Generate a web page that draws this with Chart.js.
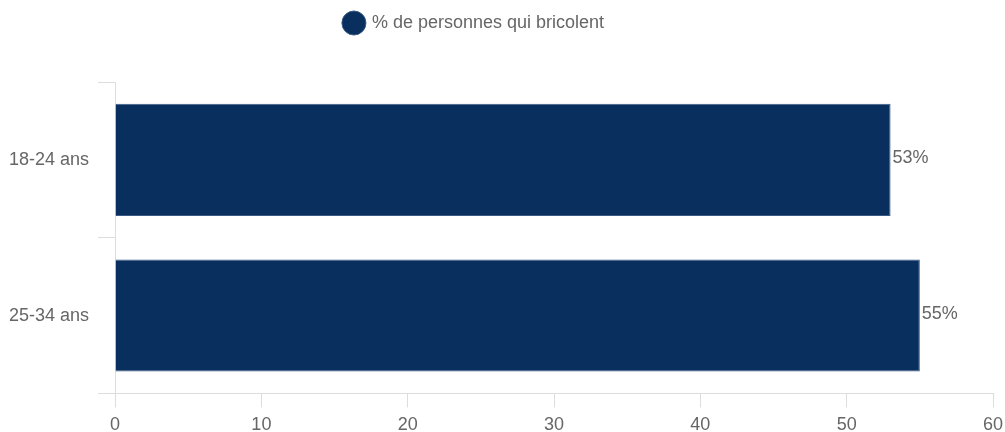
<!DOCTYPE html>
<html>
<head>
<meta charset="utf-8">
<script src="https://cdn.jsdelivr.net/npm/chart.js@4/dist/chart.umd.min.js"></script>
<style>
    html, body { margin: 0; padding: 0; background: #fff; }
    #wrap { width: 1005px; height: 432px; }
</style>
</head>
<body>
<div id="wrap"><canvas id="bricolage"></canvas></div>
<script>
var categories = ["18-24 ans", "25-34 ans"];
var valeurs = [53, 55];
var serieLabel = "% de personnes qui bricolent";

// etiquettes au bout des barres
var barLabels = {
    id: 'barLabels',
    afterDatasetsDraw(chart) {
        var ctx = chart.ctx;
        ctx.save();
        ctx.font = '18px "Liberation Sans", Arial, sans-serif';
        ctx.fillStyle = '#666';
        ctx.textAlign = 'left';
        ctx.textBaseline = 'middle';
        chart.getDatasetMeta(0).data.forEach((bar, i) => {
            ctx.fillText(valeurs[i] + '%', bar.x + 2, bar.y - 2);
        });
        ctx.restore();
    }
};

// espace sous la legende, legende un peu a gauche
var legendSpace = {
    id: 'legendSpace',
    beforeInit(chart) {
        var fit = chart.legend.fit;
        chart.legend.fit = function () {
            fit.bind(chart.legend)();
            this.height += 40;
        };
    },
    afterLayout(chart) {
        chart.legend.left -= 25;
        chart.legend.right -= 25;
    }
};

Chart.defaults.font.family = '"Liberation Sans", Arial, sans-serif';
Chart.defaults.font.size = 18;
Chart.defaults.color = '#666';

var ctx = document.querySelector('#bricolage').getContext('2d');
var myChart = new Chart(ctx, {
    type: 'bar',
    data: {
        labels: categories,
        datasets: [{
            label: serieLabel,
            data: valeurs,
            backgroundColor: '#082f5e',
            borderColor: '#3a5a85',
            borderWidth: 1
        }]
    },
    options: {
        indexAxis: 'y',
        responsive: true,
        maintainAspectRatio: false,
        animation: false,
        layout: {
            padding: { left: 0, right: 6, top: 0, bottom: -11 }
        },
        plugins: {
            legend: {
                position: 'top',
                labels: {
                    usePointStyle: true,
                    pointStyle: 'circle',
                    boxHeight: 17,
                    padding: 14,
                    color: '#666'
                }
            },
            tooltip: { enabled: false }
        },
        scales: {
            x: {
                min: 0,
                max: 60,
                ticks: { stepSize: 10, padding: 7 },
                grid: { drawOnChartArea: false, color: '#ddd', tickLength: 14 },
                border: { color: '#ddd' },
                afterFit(scale) {
                    scale.paddingRight = 12;
                }
            },
            y: {
                ticks: { padding: 9 },
                grid: { drawOnChartArea: false, color: '#ddd', tickLength: 17, offset: true },
                border: { color: '#ddd' }
            }
        }
    },
    plugins: [barLabels, legendSpace]
});
</script>
</body>
</html>
